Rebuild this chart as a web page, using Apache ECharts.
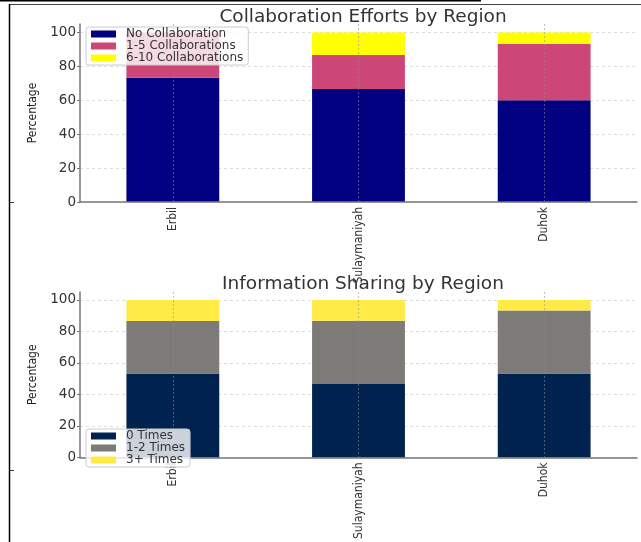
<!DOCTYPE html>
<html>
<head>
<meta charset="utf-8">
<script src="https://cdn.jsdelivr.net/npm/echarts@6/dist/echarts.min.js"></script>
<style>
html,body{margin:0;padding:0;background:#fff;}
#chart{width:641px;height:542px;}
</style>
</head>
<body>
<div id="chart"></div>
<script>
// ---- data ----
var regions = ['Erbil', 'Sulaymaniyah', 'Duhok'];
var collabNames = ['No Collaboration', '1-5 Collaborations', '6-10 Collaborations'];
var noCollab = [73.3, 66.7, 60.0];
var collab1to5 = [26.7, 20.0, 33.3];
var collab6to10 = [0, 13.3, 6.7];
var shareNames = ['0 Times', '1-2 Times', '3+ Times'];
var share0 = [53.3, 46.7, 53.3];
var share1to2 = [33.3, 40.0, 40.0];
var share3plus = [13.3, 13.3, 6.7];
var titles = ['Collaboration Efforts by Region', 'Information Sharing by Region'];
var yTicks = [0, 20, 40, 60, 80, 100];

var chart = echarts.init(document.getElementById('chart'), null, {renderer: 'canvas'});
var narrow = "'Liberation Sans Narrow', 'DejaVu Sans Condensed', 'Roboto Condensed', 'Liberation Sans', sans-serif";
var dv = "'DejaVu Sans', sans-serif";
var gridCol = '#dcdcdc';

function xAxisFor(idx) {
  return {
    type: 'category', gridIndex: idx, data: regions, z: 3,
    axisLine: {lineStyle: {color: '#777', width: 1.5}},
    axisTick: {show: false},
    axisLabel: {rotate: 90, fontFamily: narrow, fontSize: 12, color: '#333', margin: 5},
    splitLine: {show: true, alignWithLabel: true, lineStyle: {color: 'rgba(140,140,140,0.55)', type: [2, 2], width: 1}}
  };
}
function yAxisFor(idx) {
  return {
    type: 'value', gridIndex: idx, min: 0, max: 105, interval: 20,
    name: 'Percentage', nameLocation: 'middle', nameRotate: 90, nameGap: 39,
    nameTextStyle: {fontFamily: narrow, fontSize: 12, color: '#222'},
    axisLine: {show: true, lineStyle: {color: '#777', width: 1.5}},
    axisTick: {show: true, length: 3, lineStyle: {color: '#777'}},
    axisLabel: {fontFamily: dv, fontSize: 13.5, color: '#333', margin: 4, showMaxLabel: false,
      formatter: function (v) { return yTicks.indexOf(v) >= 0 ? String(v) : ''; }},
    splitLine: {show: true, lineStyle: {color: [gridCol, gridCol, gridCol, gridCol, gridCol, gridCol, 'transparent'], type: [3, 3], width: 1}}
  };
}
function bar(name, data, color, idx, stack) {
  return {name: name, type: 'bar', stack: stack, xAxisIndex: idx, yAxisIndex: idx,
    data: data, barWidth: '50%', itemStyle: {color: color}, emphasis: {disabled: true}, animation: false};
}
function legendFor(names, left, top) {
  return {
    data: names, orient: 'vertical', left: left, top: top,
    itemWidth: 25, itemHeight: 7, itemGap: 0, padding: [1, 5, 1, 5],
    backgroundColor: 'rgba(255,255,255,0.8)', borderColor: '#cccccc', borderWidth: 1, borderRadius: 3,
    icon: 'rect',
    textStyle: {fontFamily: dv, fontSize: 12, color: '#333', lineHeight: 11.3, height: 11.3, padding: [0, 0, 0, 5]}
  };
}

var option = {
  animation: false,
  backgroundColor: '#fff',
  title: [
    {text: titles[0], left: 358, top: 3, textAlign: 'center', textStyle: {fontFamily: dv, fontSize: 18.5, fontWeight: 'normal', color: '#333'}},
    {text: titles[1], left: 358, top: 270, textAlign: 'center', textStyle: {fontFamily: dv, fontSize: 18.5, fontWeight: 'normal', color: '#333'}}
  ],
  grid: [
    {left: 80, right: 4, top: 24, height: 178},
    {left: 80, right: 4, top: 292, height: 178}
  ],
  legend: [legendFor(collabNames, 86, 27), legendFor(shareNames, 86, 429)],
  xAxis: [xAxisFor(0), xAxisFor(1)],
  yAxis: [yAxisFor(0), yAxisFor(1)],
  series: [
    bar(collabNames[0], noCollab, '#000080', 0, 'a'),
    bar(collabNames[1], collab1to5, '#cc4778', 0, 'a'),
    bar(collabNames[2], collab6to10, '#ffff00', 0, 'a'),
    bar(shareNames[0], share0, '#00224e', 1, 'b'),
    bar(shareNames[1], share1to2, '#7c7b78', 1, 'b'),
    bar(shareNames[2], share3plus, '#ffea46', 1, 'b')
  ],
  graphic: [
    {type: 'line', shape: {x1: 0, y1: 0.5, x2: 481, y2: 0.5}, style: {stroke: '#000', lineWidth: 2}},
    {type: 'line', shape: {x1: 9, y1: 4.5, x2: 641, y2: 4.5}, style: {stroke: '#444', lineWidth: 1}},
    {type: 'line', shape: {x1: 9.5, y1: 4, x2: 9.5, y2: 542}, style: {stroke: '#000', lineWidth: 1.5}},
    {type: 'line', shape: {x1: 9, y1: 202.5, x2: 14, y2: 202.5}, style: {stroke: '#333', lineWidth: 1}},
    {type: 'line', shape: {x1: 9, y1: 470.5, x2: 14, y2: 470.5}, style: {stroke: '#333', lineWidth: 1}}
  ]
};
chart.setOption(option);
</script>
</body>
</html>
